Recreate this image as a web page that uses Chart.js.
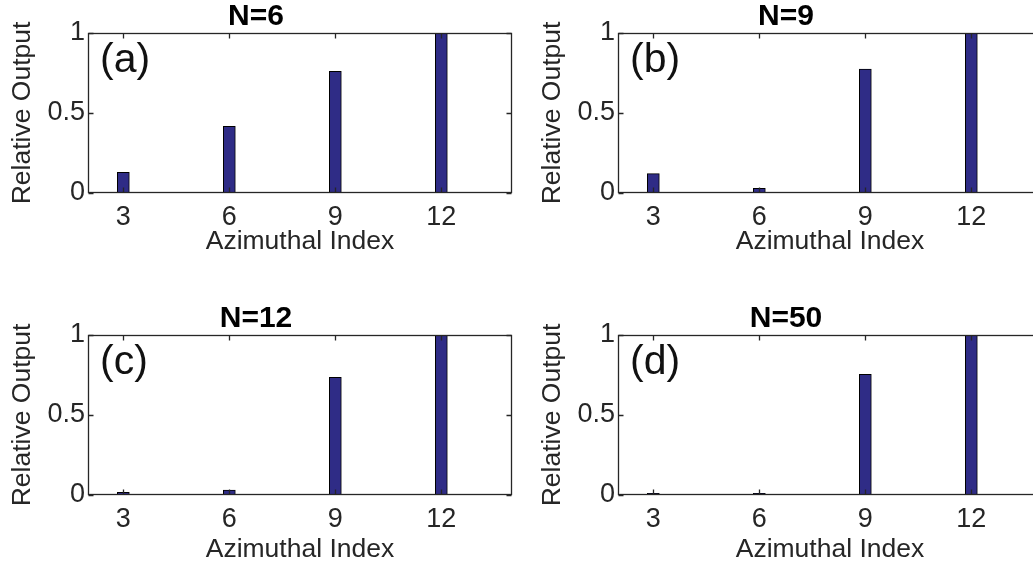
<!DOCTYPE html>
<html>
<head>
<meta charset="utf-8">
<script src="https://cdn.jsdelivr.net/npm/chart.js@4.4.1/dist/chart.umd.min.js"></script>
<style>
  html, body { margin: 0; padding: 0; background: #fff; overflow: hidden; width: 1033px; height: 565px; }
  canvas { position: absolute; }
</style>
</head>
<body>
<canvas id="ca" width="516" height="282" style="left:0;top:0"></canvas>
<canvas id="cb" width="540" height="282" style="left:516px;top:0"></canvas>
<canvas id="cc" width="516" height="283" style="left:0;top:282px"></canvas>
<canvas id="cd" width="540" height="283" style="left:516px;top:282px"></canvas>
<script>
// azimuthal index positions and tick labels
const xIndex = [3, 6, 9, 12];
const xTicks = [3, 6, 9, 12];
const yTicks = [0, 0.5, 1];

// relative output for each N
const outN6 = [0.129, 0.417, 0.760, 1.0];
const outN9 = [0.121, 0.029, 0.775, 1.0];
const outN12 = [0.017, 0.031, 0.735, 1.0];
const outN50 = [0.01, 0.01, 0.754, 1.0];

const titles = ["N=6", "N=9", "N=12", "N=50"];
const tags = ["(a)", "(b)", "(c)", "(d)"];

const FONT = "'Liberation Sans', Arial, Helvetica, sans-serif";
const INK = "#262626";

// box around the axes + matlab style inward ticks + panel letter
const matlabFrame = {
  id: "matlabFrame",
  afterDatasetsDraw(chart, args, opts) {
    const { ctx, chartArea: a, scales: { x, y } } = chart;
    const L = Math.round(a.left) + 0.5, R = Math.round(a.right) - 0.5;
    const T = Math.round(a.top) + 0.5, B = Math.round(a.bottom) - 0.5;
    ctx.save();
    ctx.strokeStyle = INK;
    ctx.lineWidth = 1.3;
    ctx.strokeRect(L, T, R - L, B - T);
    ctx.beginPath();
    xTicks.forEach(v => {
      const px = Math.round(x.getPixelForValue(v)) + 0.5;
      ctx.moveTo(px, B); ctx.lineTo(px, B - 5);
      ctx.moveTo(px, T); ctx.lineTo(px, T + 5);
    });
    yTicks.forEach(v => {
      const py = Math.round(y.getPixelForValue(v)) + 0.5;
      ctx.moveTo(L, py); ctx.lineTo(L + 5, py);
      ctx.moveTo(R, py); ctx.lineTo(R - 5, py);
    });
    ctx.stroke();
    ctx.fillStyle = "#111";
    ctx.font = "41px " + FONT;
    ctx.textBaseline = "middle";
    ctx.textAlign = "left";
    ctx.fillText(opts.tag, a.left + 12, a.top + 28);
    ctx.restore();
  }
};

function makePanel(id, title, tag, values, pad, axisH) {
  new Chart(document.getElementById(id), {
    type: "bar",
    data: {
      datasets: [{
        data: xIndex.map((v, i) => ({ x: v, y: values[i] })),
        backgroundColor: "#2f2c86",
        borderColor: "#000",
        borderWidth: 1,
        barThickness: 12
      }]
    },
    options: {
      responsive: false,
      animation: false,
      layout: { padding: pad },
      plugins: {
        legend: { display: false },
        tooltip: { enabled: false },
        title: {
          display: true,
          text: title,
          color: "#000",
          font: { family: FONT, size: 30, weight: "bold", lineHeight: 1 },
          padding: { top: 2, bottom: 1 }
        },
        matlabFrame: { tag: tag }
      },
      scales: {
        x: {
          type: "linear",
          min: 2,
          max: 14,
          offset: false,
          grid: { display: false, drawTicks: false },
          border: { display: false },
          afterBuildTicks: s => { s.ticks = xTicks.map(v => ({ value: v })); },
          afterFit: s => { s.height = axisH; },
          ticks: { color: INK, padding: 8, font: { family: FONT, size: 27 }, callback: v => String(v) },
          title: {
            display: true,
            text: "Azimuthal Index",
            color: INK,
            font: { family: FONT, size: 26.5, lineHeight: 1 },
            padding: { top: 0, bottom: 2 }
          }
        },
        y: {
          min: 0,
          max: 1,
          grid: { display: false, drawTicks: false },
          border: { display: false },
          afterBuildTicks: s => { s.ticks = yTicks.map(v => ({ value: v })); },
          afterFit: s => { s.width = 88; },
          ticks: { color: INK, padding: 3, font: { family: FONT, size: 27 }, callback: v => String(v) },
          title: {
            display: true,
            text: "Relative Output",
            color: INK,
            font: { family: FONT, size: 26.5, lineHeight: 1 },
            padding: { top: 9, bottom: 0 }
          }
        }
      }
    },
    plugins: [matlabFrame]
  });
}

makePanel("ca", titles[0], tags[0], outN6, { top: 0, right: 4, bottom: 25, left: 0 }, 64);
makePanel("cb", titles[1], tags[1], outN9, { top: 0, right: 14, bottom: 25, left: 14 }, 64);
makePanel("cc", titles[2], tags[2], outN12, { top: 20, right: 4, bottom: 0, left: 0 }, 70);
makePanel("cd", titles[3], tags[3], outN50, { top: 20, right: 14, bottom: 0, left: 14 }, 70);
</script>
</body>
</html>
